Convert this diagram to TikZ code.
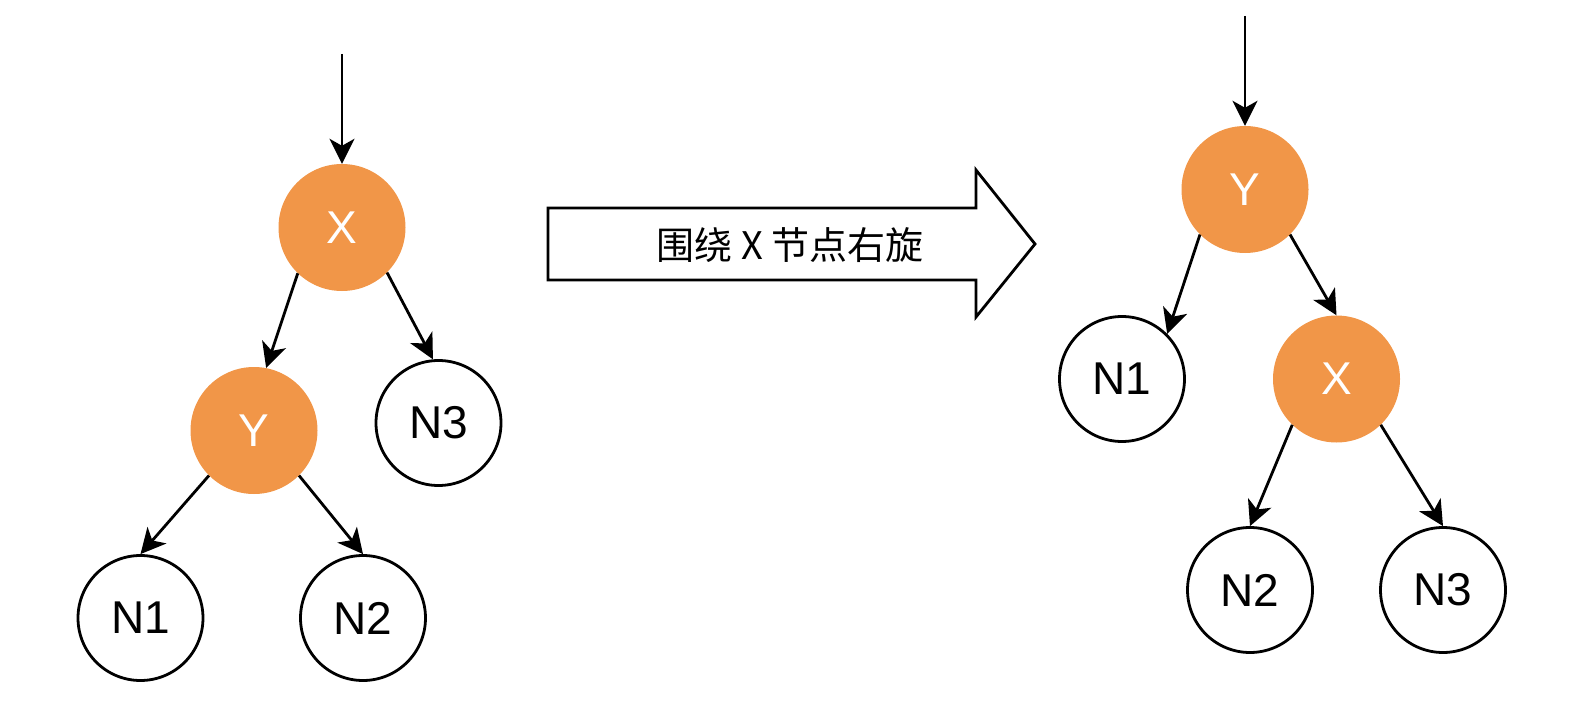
\documentclass[tikz,border=0pt]{standalone}
\usepackage{fontspec}
\setmainfont{Liberation Sans}
\newfontfamily\cjk{Noto Sans CJK SC}
\usetikzlibrary{arrows.meta}
\definecolor{nodeorange}{RGB}{241,150,72}
\begin{document}
\begin{tikzpicture}[x=1pt,y=-1pt,
  tree/.style={circle, inner sep=0pt, font=\fontsize{46}{50}\selectfont},
  plain/.style={tree, minimum size=125pt, draw=black, line width=2.8pt, fill=white},
  hot/.style={tree, minimum size=127pt, fill=nodeorange, text=white},
  link/.style={line width=2.8pt, -{Stealth[length=25pt,width=25pt,inset=7pt]}},
  bigarrow/.style={draw=black, line width=2.8pt, fill=white, line join=miter},
]
\useasboundingbox (0,0) rectangle (1582,722);

% left tree
\node[hot]   (LX)  at (342,227.5) {X};
\node[hot]   (LY)  at (254,430.5) {Y};
\node[plain] (LN3) at (438.5,423) {N3};
\node[plain] (LN1) at (140.5,618) {N1};
\node[plain] (LN2) at (363,618) {N2};
\coordinate (Lin) at (342,54);
\draw[link] (Lin) -- (LX.north);
\draw[link] (LX.226) -- (LY.79);
\draw[link] (LX.315) -- (LN3.95);
\draw[link] (LY.225) -- (LN1.90);
\draw[link] (LY.315) -- (LN2.90);

% big arrow
\draw[bigarrow] (548,208) -- (976,208) -- (976,170) -- (1035,244) -- (976,317) -- (976,280) -- (548,280) -- cycle;
\node (rot) at (790,245) {\cjk\fontsize{38}{40}\selectfont 围绕 X 节点右旋};

% right tree
\node[hot]   (RY)  at (1245,189.5) {Y};
\node[plain] (RN1) at (1122,379) {N1};
\node[hot]   (RX)  at (1336.5,379) {X};
\node[plain] (RN2) at (1250,590) {N2};
\node[plain] (RN3) at (1443,590) {N3};
\coordinate (Rin) at (1245,16);
\draw[link] (Rin) -- (RY.north);
\draw[link] (RY.225) -- (RN1.45);
\draw[link] (RY.315) -- (RX.90);
\draw[link] (RX.226) -- (RN2.90);
\draw[link] (RX.314) -- (RN3.90);
\end{tikzpicture}
\end{document}
